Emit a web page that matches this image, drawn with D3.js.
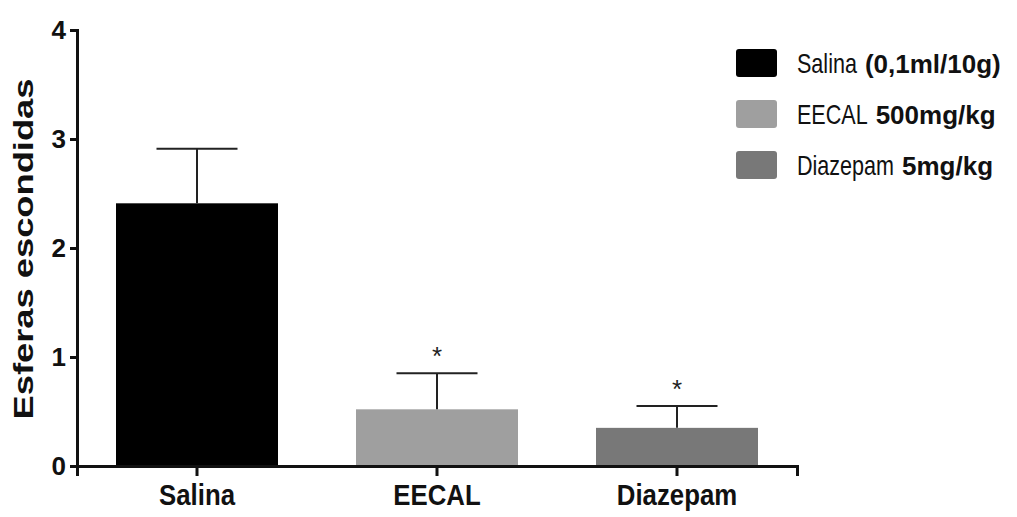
<!DOCTYPE html>
<html>
<head>
<meta charset="utf-8">
<script src="https://cdn.jsdelivr.net/npm/d3@7"></script>
<style>
  body { margin: 0; background: #fff; }
  svg { display: block; font-family: "Liberation Sans", Arial, sans-serif; }
</style>
</head>
<body>
<div id="viz"></div>
<script>
var w = 1017, h = 517;

var groups = ["Salina", "EECAL", "Diazepam"];
var means = [2.41, 0.52, 0.35];
var errors = [0.50, 0.33, 0.20];
var stars = ["", "*", "*"];
var yTicks = [0, 1, 2, 3, 4];
var legendMain = ["Salina", "EECAL", "Diazepam"];
var legendSub = ["(0,1ml/10g)", "500mg/kg", "5mg/kg"];

var color = ["#000000", "#9f9f9f", "#787878"];

var svg = d3.select("#viz")
    .append("svg")
    .attr("width", w)
    .attr("height", h);

var x = d3.scaleBand()
    .domain(groups)
    .range([77, 797])
    .paddingInner(0.325)
    .paddingOuter(0.1625);

var y = d3.scaleLinear()
    .domain([0, 4])
    .range([466, 30]);

// bars
svg.append("g")
    .selectAll("rect")
    .data(groups)
    .enter()
    .append("rect")
    .attr("x", function(d) { return x(d); })
    .attr("y", function(d, i) { return y(means[i]); })
    .attr("width", x.bandwidth())
    .attr("height", function(d, i) { return y(0) - y(means[i]); })
    .attr("fill", function(d, i) { return color[i]; });

// error bars, upper half only
var err = svg.append("g")
    .attr("stroke", "#222")
    .attr("stroke-width", 2);

err.selectAll("line.stem")
    .data(groups)
    .enter()
    .append("line")
    .attr("class", "stem")
    .attr("x1", function(d) { return x(d) + x.bandwidth() / 2; })
    .attr("x2", function(d) { return x(d) + x.bandwidth() / 2; })
    .attr("y1", function(d, i) { return y(means[i]); })
    .attr("y2", function(d, i) { return y(means[i] + errors[i]); });

err.selectAll("line.cap")
    .data(groups)
    .enter()
    .append("line")
    .attr("class", "cap")
    .attr("x1", function(d) { return x(d) + x.bandwidth() / 4; })
    .attr("x2", function(d) { return x(d) + x.bandwidth() * 3 / 4; })
    .attr("y1", function(d, i) { return y(means[i] + errors[i]); })
    .attr("y2", function(d, i) { return y(means[i] + errors[i]); });

// stars
svg.append("g")
    .selectAll("text")
    .data(groups)
    .enter()
    .append("text")
    .attr("x", function(d) { return x(d) + x.bandwidth() / 2; })
    .attr("y", function(d, i) { return y(means[i] + errors[i]) - 8; })
    .attr("text-anchor", "middle")
    .attr("font-size", 26)
    .attr("fill", "#222")
    .text(function(d, i) { return stars[i]; });

// y axis
var yAxis = svg.append("g")
    .attr("transform", "translate(77,0)")
    .call(d3.axisLeft(y).tickValues(yTicks).tickFormat(d3.format("d")).tickSizeOuter(0).tickSize(7).tickPadding(4));

yAxis.select(".domain").attr("stroke", "#111").attr("stroke-width", 3);
yAxis.selectAll(".tick line").attr("stroke", "#111").attr("stroke-width", 3);
yAxis.selectAll(".tick text")
    .attr("font-family", "Liberation Sans, Arial, sans-serif")
    .attr("font-size", 26)
    .attr("font-weight", "bold")
    .attr("fill", "#111");

// x axis
var xAxis = svg.append("g")
    .attr("transform", "translate(0,466)")
    .call(d3.axisBottom(x).tickSizeOuter(0).tickSize(10).tickPadding(8));

xAxis.select(".domain").attr("stroke", "#111").attr("stroke-width", 3);
xAxis.selectAll(".tick line").attr("stroke", "#111").attr("stroke-width", 3);
xAxis.selectAll(".tick text")
    .attr("font-family", "Liberation Sans, Arial, sans-serif")
    .attr("font-size", 30)
    .attr("font-weight", "bold")
    .attr("fill", "#111")
    .attr("transform", "scale(0.86,1)");

// y label
svg.append("text")
    .attr("transform", "translate(33,249) rotate(-90)")
    .attr("text-anchor", "middle")
    .attr("font-weight", "bold")
    .attr("font-size", 28)
    .attr("textLength", 341)
    .attr("lengthAdjust", "spacingAndGlyphs")
    .attr("fill", "#111")
    .text("Esferas escondidas");

// legend
var legend = svg.append("g")
    .attr("transform", "translate(736,49)");

var item = legend.selectAll("g")
    .data(groups)
    .enter()
    .append("g")
    .attr("transform", function(d, i) { return "translate(0," + (i * 51) + ")"; });

item.append("rect")
    .attr("width", 41)
    .attr("height", 28)
    .attr("rx", 3)
    .attr("fill", function(d, i) { return color[i]; });

var mainScale = 0.77;
var main = item.append("text")
    .attr("transform", "translate(61,24) scale(" + mainScale + ",1)")
    .attr("font-size", 28)
    .attr("fill", "#111")
    .text(function(d, i) { return legendMain[i]; });

main.each(function(d, i) {
    var len = this.getComputedTextLength() * mainScale;
    d3.select(this.parentNode).append("text")
        .attr("x", 61 + len + 8)
        .attr("y", 24)
        .attr("font-size", 26)
        .attr("font-weight", "bold")
        .attr("fill", "#111")
        .text(legendSub[i]);
});
</script>
</body>
</html>
